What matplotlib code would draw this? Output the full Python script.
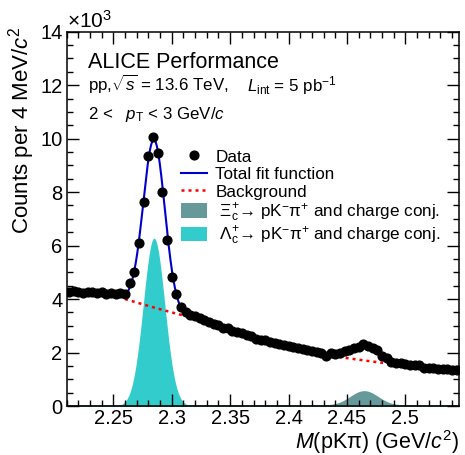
import numpy as np
import matplotlib
matplotlib.use('Agg')
import matplotlib.pyplot as plt
from matplotlib.lines import Line2D
from matplotlib.patches import Patch
from matplotlib.ticker import MultipleLocator, FixedLocator, FixedFormatter

plt.rcParams['font.family'] = ['Liberation Sans', 'DejaVu Sans']
plt.rcParams['mathtext.fontset'] = 'custom'
plt.rcParams['mathtext.rm'] = 'Liberation Sans'
plt.rcParams['mathtext.it'] = 'Liberation Sans:italic'
plt.rcParams['mathtext.bf'] = 'Liberation Sans:bold'

# invariant mass histogram, 4 MeV bins from 2.21 GeV/c^2
bin_low = 2.21
bin_width = 0.004
# counts per bin, in units of 10^3
counts = [4.27, 4.30, 4.26, 4.24, 4.27, 4.25, 4.22, 4.26, 4.20, 4.24, 4.19, 4.23, 4.20,
          4.61, 5.02, 6.08, 7.64, 9.35, 10.07, 9.45, 8.01, 6.21, 4.81, 4.19, 3.71,
          3.50, 3.42, 3.36, 3.28, 3.22, 3.15, 3.08, 3.04, 2.92, 2.93, 2.80, 2.76, 2.72, 2.64,
          2.62, 2.52, 2.46, 2.45, 2.38, 2.36, 2.31, 2.28, 2.26, 2.21, 2.17, 2.14, 2.09,
          2.06, 2.03, 1.98, 1.88, 1.98, 1.95, 2.00, 2.06, 2.09, 2.18, 2.22,
          2.33, 2.25, 2.16, 2.10, 1.88, 1.78, 1.66, 1.62, 1.60, 1.56, 1.54, 1.52, 1.53,
          1.44, 1.43, 1.42, 1.40, 1.39, 1.37, 1.35, 1.33]

# fit results per peak: range, exp. background (value at mean, slope), gaussian
lc_range = (2.260, 2.310)
lc_bkg = (3.683, -3.33)
lc_gaus = (2.2848, 0.0092, 6.28)
xic_range = (2.437, 2.481)
xic_bkg = (1.704, -3.38)
xic_gaus = (2.4647, 0.0115, 0.535)

x_ticks = [2.25, 2.30, 2.35, 2.40, 2.45, 2.50]
x_labels = ['2.25', '2.3', '2.35', '2.4', '2.45', '2.5']
y_ticks = [0, 2, 4, 6, 8, 10, 12, 14]


def gaus(m, par):
    mean, sigma, amp = par
    return amp * np.exp(-0.5 * ((m - mean) / sigma) ** 2)


def bkg(m, par, mean):
    val, slope = par
    return val * np.exp(slope * (m - mean))


n_bins = len(counts)
centers = bin_low + bin_width * (np.arange(n_bins) + 0.5)
x_max = bin_low + bin_width * n_bins

fig = plt.figure(figsize=(4.65, 4.55), dpi=100)
ax = fig.add_axes([66.7 / 465, 49 / 455, (459 - 66.7) / 465, (406 - 31.7) / 455])

m_all = np.linspace(bin_low, x_max, 800)
cyan = '#33cccc'
teal = '#669999'
ax.fill_between(m_all, 0, gaus(m_all, lc_gaus), color=cyan, lw=0, zorder=1)
ax.fill_between(m_all, 0, gaus(m_all, xic_gaus), facecolor=teal, edgecolor=teal, lw=1.5, zorder=1)

for rng, bp, gp in [(lc_range, lc_bkg, lc_gaus), (xic_range, xic_bkg, xic_gaus)]:
    m = np.linspace(rng[0], rng[1], 200)
    b = bkg(m, bp, gp[0])
    ax.plot(m, b, color='red', lw=1.8, ls=(0, (1.2, 1.6)), zorder=2)
    ax.plot(m, b + gaus(m, gp), color='#0000cc', lw=1.5, zorder=2)

ax.plot(centers, counts, 'o', color='black', ms=6.3, zorder=3)

ax.set_xlim(bin_low, x_max)
ax.set_ylim(0, 14)
ax.xaxis.set_major_locator(FixedLocator(x_ticks))
ax.xaxis.set_major_formatter(FixedFormatter(x_labels))
ax.xaxis.set_minor_locator(MultipleLocator(0.01))
ax.yaxis.set_major_locator(FixedLocator(y_ticks))
ax.yaxis.set_minor_locator(MultipleLocator(0.5))
ax.tick_params(which='both', direction='in', top=True, right=True, width=1, labelsize=14.5)
ax.tick_params(which='major', length=8.5)
ax.tick_params(which='minor', length=4.3)
ax.tick_params(axis='x', pad=2.5)
ax.tick_params(axis='y', pad=3)
for s in ax.spines.values():
    s.set_linewidth(1.1)

fig.text(67 / 465, 1 - 27.5 / 455, r'$\times$10$^{3}$', fontsize=15, va='baseline')
fig.text(22 / 465, 1 - 27 / 455, r'Counts per 4 MeV/$c^{2}$', fontsize=16,
         rotation=90, ha='center', va='top')
fig.text(459 / 465, 1 - 449 / 455, r'$M$(pKπ) (GeV/$c^{2}$)', fontsize=15.5,
         ha='right', va='baseline')

fig.text(88 / 465, 1 - 68.5 / 455, 'ALICE Performance', fontsize=15.5, va='baseline')
fig.text(88 / 465, 1 - 91.5 / 455, r'pp,$\sqrt{s}$ = 13.6 TeV,', fontsize=12.2, va='baseline')
fig.text(247 / 465, 1 - 91.5 / 455, r'$L_{\rm int}$ = 5 pb$^{-1}$', fontsize=12.2, va='baseline')
fig.text(88 / 465, 1 - 119.5 / 455, r'2 <   $p_{\rm T}$ < 3 GeV/$c$', fontsize=12.2, va='baseline')

handles = [
    Line2D([], [], ls='none', marker='o', color='black', ms=6.3),
    Line2D([], [], color='#0000cc', lw=1.5),
    Line2D([], [], color='red', lw=1.8, ls=(0, (1.2, 1.6))),
    Patch(facecolor=teal, edgecolor='none'),
    Patch(facecolor=cyan, edgecolor='none'),
]
labels = [
    'Data',
    'Total fit function',
    'Background',
    r' $\mathrm{\Xi}_{\mathrm{c}}^{+}$→ pK$^{-}$π$^{+}$ and charge conj.',
    r' $\mathrm{\Lambda}_{\mathrm{c}}^{+}$→ pK$^{-}$π$^{+}$ and charge conj.',
]
ax.legend(handles, labels, loc='upper left', bbox_to_anchor=(181 / 465, 1 - 149 / 455),
          bbox_transform=fig.transFigure, frameon=False, fontsize=12.3,
          borderpad=0, borderaxespad=0, labelspacing=0.08, handlelength=1.5,
          handleheight=0.9, handletextpad=0.5)

fig.savefig('out.png', dpi=100)
